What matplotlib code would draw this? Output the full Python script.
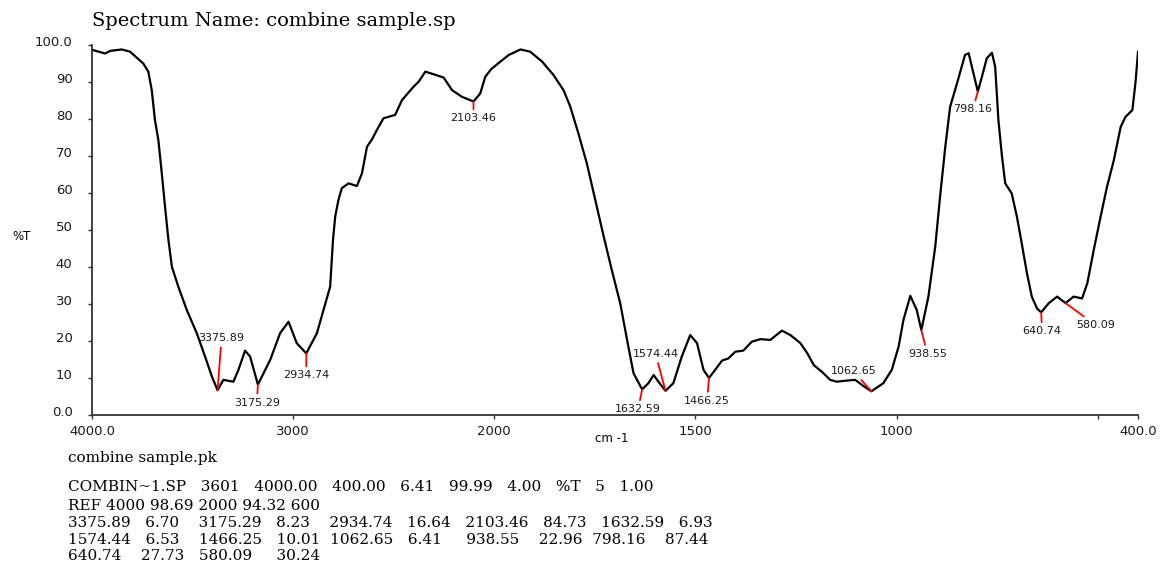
import numpy as np
import matplotlib
import matplotlib.pyplot as plt
from matplotlib.transforms import ScaledTranslation

matplotlib.use("Agg")

# spectrum (wavenumber cm-1, %T)
wavenumber = [
    4000, 3935, 3910, 3852, 3811, 3745, 3720, 3703, 3687, 3670, 3653, 3637,
    3620, 3603, 3571, 3529, 3479, 3438, 3404, 3375.89, 3347, 3297, 3272, 3239,
    3214, 3175.29, 3114, 3065, 3023, 2982, 2934.74, 2882, 2849, 2816, 2802,
    2791, 2775, 2758, 2725, 2683, 2658, 2633, 2608, 2584, 2551, 2493, 2459,
    2402, 2376, 2343, 2302, 2252, 2210, 2161, 2103.46, 2070, 2045, 2015, 1985,
    1964, 1935, 1911, 1881, 1853, 1828, 1811, 1791, 1770, 1749, 1728, 1708,
    1687, 1670, 1654, 1632.59, 1617, 1604, 1592, 1574.44, 1555, 1534, 1513,
    1496, 1480, 1466.25, 1451, 1434, 1418, 1401, 1381, 1360, 1339, 1314, 1285,
    1264, 1239, 1222, 1206, 1186, 1165, 1149, 1124, 1103, 1082, 1062.65, 1033,
    1012, 995, 983, 966, 950, 938.55, 921, 904, 892, 879, 867, 850, 830, 821,
    809, 798.16, 788, 776, 763, 755, 747, 738, 730, 714, 701, 689, 676, 664,
    651, 640.74, 622, 601, 580.09, 560, 539, 526, 510, 493, 477, 460, 443, 431,
    414, 406, 400,
]
transmittance = [
    98.7, 97.7, 98.4, 98.8, 98.2, 95.0, 92.8, 87.8, 79.7, 74.3, 65.3, 56.3,
    47.3, 40.1, 34.7, 28.4, 22.1, 15.8, 10.4, 6.70, 9.5, 9.0, 12.2, 17.4,
    15.8, 8.23, 14.9, 22.1, 25.2, 19.4, 16.64, 22.1, 28.4, 34.7, 47.3,
    53.6, 58.1, 61.3, 62.6, 61.9, 65.3, 72.5, 74.5, 77.0, 80.2, 81.1, 85.1,
    88.7, 90.1, 92.8, 92.1, 91.2, 87.8, 86.0, 84.73, 86.9, 91.4, 93.5, 95.5,
    97.3, 98.8, 98.2, 95.5, 91.9, 87.8, 83.3, 76.1, 68.0, 58.1, 48.2, 39.2,
    30.2, 20.3, 11.3, 6.93, 8.6, 10.8, 9.0, 6.53, 8.6, 15.8, 21.6,
    19.4, 12.2, 10.01, 12.2, 14.7, 15.3, 17.1, 17.4, 19.8, 20.5, 20.3, 22.8,
    21.6, 19.4, 16.7, 13.5, 11.7, 9.5, 9.0, 9.3, 9.5, 7.8, 6.41, 8.6,
    12.2, 18.5, 25.7, 32.2, 28.4, 22.96, 32.0, 45.5, 59.0, 72.5, 83.3, 89.6, 97.3, 97.8,
    92.3, 87.44, 91.4, 96.4, 97.9, 94.1, 79.7, 69.8, 62.6, 59.9, 53.6, 46.4, 38.3, 32.0,
    28.8, 27.73, 30.2, 32.0, 30.24, 32.0, 31.5, 35.6, 44.6, 53.6, 61.7, 68.9, 77.9, 80.6,
    82.4, 90.1, 98.2,
]

peak_wavenumbers = [3375.89, 3175.29, 2934.74, 2103.46, 1632.59, 1574.44,
                    1466.25, 1062.65, 938.55, 798.16, 640.74, 580.09]
peak_transmittance = [6.70, 8.23, 16.64, 84.73, 6.93, 6.53,
                      10.01, 6.41, 22.96, 87.44, 27.73, 30.24]

x_ticks = [4000, 3000, 2000, 1500, 1000, 500, 400]
x_tick_labels = ["4000.0", "3000", "2000", "1500", "1000", "", "400.0"]
y_ticks = [0, 10, 20, 30, 40, 50, 60, 70, 80, 90, 100]
y_tick_labels = ["0.0", "10", "20", "30", "40", "50", "60", "70", "80", "90", "100.0"]

title = "Spectrum Name: combine sample.sp"
footer_lines = [
    "combine sample.pk",
    "COMBIN~1.SP   3601   4000.00   400.00   6.41   99.99   4.00   %T   5   1.00",
    "REF 4000 98.69 2000 94.32 600",
    "3375.89   6.70    3175.29   8.23    2934.74   16.64   2103.46   84.73   1632.59   6.93",
    "1574.44   6.53    1466.25   10.01  1062.65   6.41     938.55    22.96  798.16    87.44",
    "640.74    27.73   580.09     30.24",
]

# label placement (pixel offsets of label centre from the peak)
label_offsets = [(4, 52), (-1, -18), (0, -22), (0, -17), (-4, -20), (-10, 37),
                 (-2, -23), (-18, 20), (6, -24), (-5, -18), (1, -19), (30, -22)]
footer_baselines = [462, 491, 510, 527, 544, 560]

W, H = 1164, 562


def fwd(x):
    # 4000-2000 region is drawn at half scale
    x = np.asarray(x, dtype=float)
    return np.where(x > 2000, 2000 + (x - 2000) / 2.0, x)


def inv(t):
    t = np.asarray(t, dtype=float)
    return np.where(t > 2000, 2000 + (t - 2000) * 2.0, t)


fig = plt.figure(figsize=(W / 100, H / 100), dpi=100)
ax = fig.add_axes([92 / W, 1 - 415 / H, (1138 - 92) / W, (415 - 45) / H])

ax.plot(wavenumber, transmittance, color="black", lw=1.6)

ax.set_xscale("function", functions=(fwd, inv))
ax.set_xlim(4000, 400)
ax.set_ylim(0, 100)

ax.set_xticks(x_ticks)
ax.set_xticklabels(x_tick_labels)
ax.set_yticks(y_ticks)
ax.set_yticklabels(y_tick_labels)
ax.xaxis.set_minor_locator(matplotlib.ticker.NullLocator())

ax.tick_params(axis="both", direction="out", length=3, width=1, color="#333333",
               labelsize=9.5, labelcolor="#1a1a1a")
ax.tick_params(axis="x", pad=4)
ax.tick_params(axis="y", pad=11)
for lbl in ax.get_yticklabels():
    lbl.set_transform(lbl.get_transform() + ScaledTranslation(0, 3 / 72, fig.dpi_scale_trans))

for side in ["top", "right"]:
    ax.spines[side].set_visible(False)
for side in ["left", "bottom"]:
    ax.spines[side].set_color("#333333")
    ax.spines[side].set_linewidth(1.3)

# peak labels with red leader lines
for wn, tr, (dx, dy) in zip(peak_wavenumbers, peak_transmittance, label_offsets):
    ax.annotate(
        f"{wn:.2f}",
        xy=(wn, tr),
        xytext=(dx, dy),
        textcoords="offset pixels",
        ha="center",
        va="center",
        fontsize=8,
        color="#1a1a1a",
        arrowprops=dict(arrowstyle="-", color="red", lw=1.3, shrinkA=1, shrinkB=0),
        annotation_clip=False,
    )

fig.text(92 / W, 1 - 21 / H, title, ha="left", va="center",
         family="DejaVu Serif", fontsize=14)
fig.text(22 / W, 1 - 237 / H, "%T", ha="center", va="center", fontsize=8.5)
fig.text(612 / W, 1 - 438 / H, "cm -1", ha="center", va="center", fontsize=8.5)

for line, base in zip(footer_lines, footer_baselines):
    fig.text(68 / W, 1 - base / H, line, ha="left", va="baseline",
             family="DejaVu Serif", fontsize=11)

fig.savefig("out.png", dpi=100)
plt.close(fig)
